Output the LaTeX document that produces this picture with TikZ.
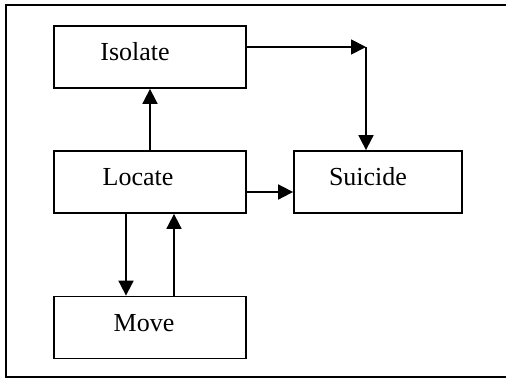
\documentclass[tikz,border=0pt]{standalone}
\usepackage{fontspec}
\setmainfont{Liberation Serif}
\usetikzlibrary{arrows.meta}

\begin{document}
\begin{tikzpicture}[x=1pt, y=-1pt,
		blok/.style={draw, line width=1.8pt, minimum width=192pt, minimum height=62pt, inner sep=0pt},
		txt/.style={font=\fontsize{26}{30}\selectfont},
		arr/.style={line width=1.8pt, -{Triangle[length=15pt, width=15pt]}},
		link/.style={line width=1.8pt}]
	\useasboundingbox (0,0) rectangle (506,380);
	\draw[line width=1.6pt] (508,5) -- (6,5) -- (6,377) -- (508,377);
	
	\node[blok, label={[txt, xshift=-15pt, yshift=5pt]center:Isolate}] (isolate) at (150,57) {};
	\node[blok, label={[txt, xshift=-12pt, yshift=5pt]center:Locate}] (locate) at (150,182) {};
	\node[blok, minimum width=168pt, label={[txt, xshift=-10pt, yshift=5pt]center:Suicide}] (suicide) at (378,182) {};
	\node[blok, label={[txt, xshift=-6pt, yshift=4pt]center:Move}] (move) at (150,327.5) {};
	
	\coordinate (bend) at (366,47);
	\draw[arr] (isolate.east |- bend) -- (bend);
	\draw[link] (bend) -- ++(0,6);
	\draw[arr] (bend) -- (bend |- suicide.north);
	
	\draw[arr] (locate.north) -- (isolate.south);
	\draw[arr] ([yshift=-10pt]locate.east) -- ([yshift=-10pt]locate.east -| suicide.west);
	\draw[arr] ([xshift=-24pt]locate.south) -- ([xshift=-24pt]locate.south |- move.north);
	\draw[arr] ([xshift=24pt]move.north) -- ([xshift=24pt]move.north |- locate.south);
\end{tikzpicture}
\end{document}
